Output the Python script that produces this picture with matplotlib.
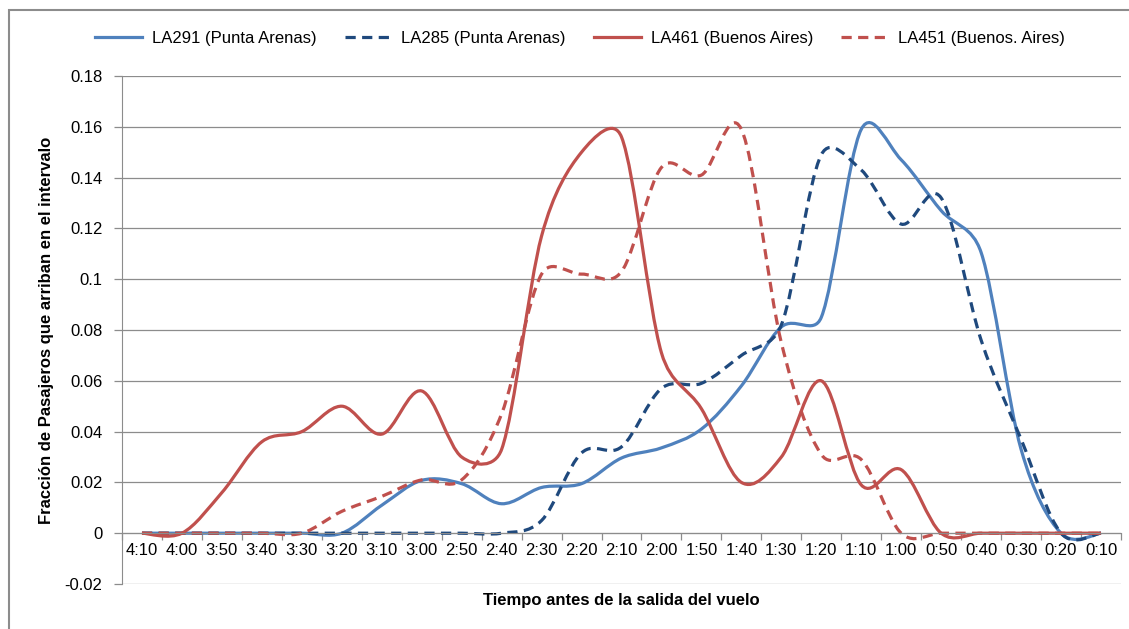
import numpy as np
import matplotlib.pyplot as plt
from matplotlib.path import Path
from matplotlib.patches import PathPatch, Rectangle
from matplotlib.lines import Line2D

plt.rcParams['font.family'] = ['Liberation Sans', 'DejaVu Sans']

# Categorias (tiempo antes de la salida)
categorias = ["4:10", "4:00", "3:50", "3:40", "3:30", "3:20", "3:10", "3:00", "2:50",
              "2:40", "2:30", "2:20", "2:10", "2:00", "1:50", "1:40", "1:30", "1:20",
              "1:10", "1:00", "0:50", "0:40", "0:30", "0:20", "0:10"]

# Fraccion de pasajeros por intervalo
la291 = [0, 0, 0, 0, 0, 0, 0.011, 0.0208, 0.0195, 0.0116, 0.018, 0.0195, 0.0296,
         0.0336, 0.041, 0.058, 0.0812, 0.085, 0.159, 0.147, 0.127, 0.1105, 0.033, 0, 0]
la285 = [0, 0, 0, 0, 0, 0, 0, 0, 0, 0, 0.005, 0.0316, 0.034, 0.057, 0.059, 0.070,
         0.082, 0.149, 0.143, 0.1217, 0.132, 0.076, 0.037, 0, 0]
la461 = [0, 0, 0.016, 0.036, 0.040, 0.050, 0.039, 0.056, 0.030, 0.033, 0.117, 0.150,
         0.156, 0.071, 0.049, 0.020, 0.030, 0.060, 0.019, 0.025, 0, 0, 0, 0, 0]
la451 = [0, 0, 0, 0, 0, 0.0086, 0.0145, 0.021, 0.021, 0.047, 0.102, 0.102, 0.103,
         0.144, 0.141, 0.159, 0.075, 0.031, 0.029, 0, 0, 0, 0, 0, 0]

series = [
    ("LA291 (Punta Arenas)", la291, "#4F81BD", "-"),
    ("LA285 (Punta Arenas)", la285, "#1F497D", (0, (3.2, 2))),
    ("LA461 (Buenos Aires)", la461, "#C0504D", "-"),
    ("LA451 (Buenos. Aires)", la451, "#C0504D", (0, (3.2, 2))),
]

# escala aproximada en pixeles (para el suavizado)
PX_X = 40.0       # por categoria
PX_Y = 2540.0     # por unidad de fraccion


# Linea suavizada tipo Excel: Catmull-Rom (1/6) con brazo limitado a medio tramo
def curva_suave(x, y):
    pts = np.column_stack([np.asarray(x) * PX_X, np.asarray(y) * PX_Y]).astype(float)
    n = len(pts)
    verts = [pts[0]]
    codes = [Path.MOVETO]
    for i in range(n - 1):
        p0 = pts[max(i - 1, 0)]
        p1 = pts[i]
        p2 = pts[i + 1]
        p3 = pts[min(i + 2, n - 1)]
        d12 = np.hypot(*(p2 - p1))
        t1 = p2 - p0
        t2 = p3 - p1
        n1 = np.hypot(*t1)
        n2 = np.hypot(*t2)
        c1 = p1 + t1 / 6
        if n1 / 6 > d12 / 2 and n1 > 0:
            c1 = p1 + t1 / n1 * d12 / 2
        c2 = p2 - t2 / 6
        if n2 / 6 > d12 / 2 and n2 > 0:
            c2 = p2 - t2 / n2 * d12 / 2
        verts += [c1, c2, p2]
        codes += [Path.CURVE4] * 3
    verts = np.array(verts) / [PX_X, PX_Y]
    return Path(verts, codes)


fig = plt.figure(figsize=(11.29, 6.29), dpi=100)
ax = fig.add_axes([122 / 1129, 1 - 584 / 629, 999 / 1129, 508 / 629])

x = np.arange(len(categorias))
handles = []
for nombre, valores, color, estilo in series:
    patch = PathPatch(curva_suave(x, valores), fill=False, edgecolor=color,
                      lw=2.3, linestyle=estilo, capstyle='butt', joinstyle='round')
    ax.add_patch(patch)
    handles.append(Line2D([], [], color=color, lw=2.3, linestyle=estilo,
                          dash_capstyle='butt'))

ax.set_xlim(-0.5, len(categorias) - 0.5)
ax.set_ylim(-0.02, 0.18)
ax.set_yticks(np.arange(-0.02, 0.181, 0.02))
ax.set_yticklabels(["-0.02", "0", "0.02", "0.04", "0.06", "0.08", "0.1", "0.12",
                    "0.14", "0.16", "0.18"])
ax.yaxis.grid(True, color='#8c8c8c', lw=0.9)
ax.set_axisbelow(True)

ax.set_xticks(x)
ax.set_xticklabels(categorias)
ax.set_xticks(np.arange(-0.5, len(categorias), 1), minor=True)
ax.tick_params(axis='x', which='major', length=0, pad=7, labelsize=12)
ax.tick_params(axis='x', which='minor', length=5, color='#8c8c8c', width=0.9)
ax.tick_params(axis='y', length=6, color='#8c8c8c', width=0.9, labelsize=12, pad=8)

ax.spines['bottom'].set_position(('data', 0))
ax.spines['bottom'].set_color('#8c8c8c')
ax.spines['left'].set_color('#8c8c8c')
ax.spines['top'].set_visible(False)
ax.spines['right'].set_visible(False)

fig.text(47 / 1129, 0.475, "Fracción de Pasajeros que arriban en el intervalo",
         rotation=90, ha='center', va='center', fontsize=12, fontweight='bold')
fig.text(621 / 1129, 1 - 601 / 629, "Tiempo antes de la salida del vuelo",
         ha='center', va='center', fontsize=12, fontweight='bold')

fig.legend(handles, [s[0] for s in series], loc='center', ncol=4,
           bbox_to_anchor=(580 / 1129, 1 - 38 / 629), frameon=False, fontsize=12,
           handlelength=2.8, handletextpad=0.6, columnspacing=1.7)

# borde del area del grafico
fig.patches.append(Rectangle((9 / 1129, -0.1), 1.2, 1 - 10 / 629 + 0.1,
                             transform=fig.transFigure, fill=False,
                             edgecolor='#8c8c8c', lw=1.5))

fig.savefig("out.png", dpi=100)
